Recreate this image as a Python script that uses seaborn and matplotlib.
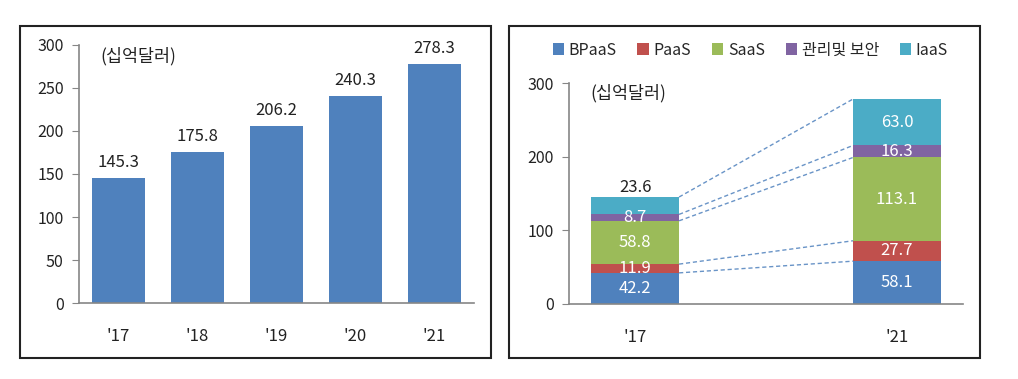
import numpy as np
import pandas as pd
import seaborn as sns
import matplotlib.pyplot as plt
from matplotlib.patches import Rectangle

# data
years = ["'17", "'18", "'19", "'20", "'21"]
totals = [145.3, 175.8, 206.2, 240.3, 278.3]

seg_years = ["'17", "'21"]
segments = ['BPaaS', 'PaaS', 'SaaS', '관리및 보안', 'IaaS']
bpaas = [42.2, 58.1]
paas = [11.9, 27.7]
saas = [58.8, 113.1]
mgmt = [8.7, 16.3]
iaas = [23.6, 63.0]
seg_colors = ['#4F81BD', '#C0504D', '#9BBB59', '#8064A2', '#4BACC6']

sns.set_style('white')
plt.rcParams['font.family'] = ['Noto Sans CJK KR', 'DejaVu Sans']
plt.rcParams['font.size'] = 11

fig = plt.figure(figsize=(10.18, 3.79), dpi=100)

# outer frames of the two panels
for x0 in (0.0196, 0.5):
    fig.patches.append(Rectangle((x0, 0.0554), 0.4627, 0.876, transform=fig.transFigure,
                                 fill=False, edgecolor='#222222', linewidth=1.5))

axis_color = '#868686'
txt = '#222222'

# ---- left panel: total market ----
ax1 = fig.add_axes([0.0776, 0.2005, 0.388, 0.6808])
df_tot = pd.DataFrame({'year': years, 'value': totals})
sns.barplot(data=df_tot, x='year', y='value', order=years, color='#4F81BD',
            saturation=1, width=0.67, errorbar=None, ax=ax1, linewidth=0)
ax1.bar_label(ax1.containers[0], fmt='%.1f', padding=5, fontsize=12, color=txt)
ax1.set_xlim(-0.5, 4.5)
ax1.set_ylim(0, 300)
ax1.set_yticks(range(0, 301, 50))
ax1.text(0.055, 0.955, '(십억달러)', transform=ax1.transAxes, ha='left', va='center',
         fontsize=12.5, color=txt)

# ---- right panel: by segment ----
ax2 = fig.add_axes([0.559, 0.198, 0.387, 0.583])
w = 0.336
cols = [bpaas, paas, saas, mgmt, iaas]
bottom = np.zeros(len(seg_years))
tops = []
for name, vals, c in zip(segments, cols, seg_colors):
    df_seg = pd.DataFrame({'year': seg_years, 'value': vals})
    sns.barplot(data=df_seg, x='year', y='value', order=seg_years, color=c,
                saturation=1, width=w, errorbar=None, bottom=bottom, ax=ax2,
                label=name, linewidth=0)
    bottom = bottom + np.array(vals)
    tops.append(bottom.copy())

for i, cont in enumerate(ax2.containers):
    labels = ['%.1f' % v for v in cols[i]]
    if segments[i] == 'IaaS':
        # '17 IaaS label sits above the bar in black
        ax2.bar_label(cont, labels=['', labels[1]], label_type='center',
                      color='white', fontsize=12)
        ax2.bar_label(cont, labels=[labels[0], ''], padding=1,
                      color=txt, fontsize=12)
    else:
        ax2.bar_label(cont, labels=labels, label_type='center',
                      color='white', fontsize=12)

# dashed connectors between segment tops
for t in tops:
    ax2.plot([0 + w / 2, 1 - w / 2], [t[0], t[1]], color='#4F81BD',
             linestyle=(0, (3, 2)), linewidth=1, alpha=0.85)

ax2.set_xlim(-0.252, 1.252)
ax2.set_ylim(0, 300)
ax2.set_yticks([0, 100, 200, 300])
ax2.text(0.055, 0.955, '(십억달러)', transform=ax2.transAxes, ha='left', va='center',
         fontsize=12.5, color=txt)

handles, lbls = ax2.get_legend_handles_labels()
fig.legend(handles, lbls, loc='center', bbox_to_anchor=(0.737, 0.868), ncol=5,
           frameon=False, handlelength=0.7, handleheight=0.7, handletextpad=0.3,
           columnspacing=1.3, fontsize=11.5)

for ax in (ax1, ax2):
    for s in ('top', 'right'):
        ax.spines[s].set_visible(False)
    for s in ('left', 'bottom'):
        ax.spines[s].set_color(axis_color)
        ax.spines[s].set_linewidth(1.2)
    ax.set_xlabel('')
    ax.set_ylabel('')
    ax.tick_params(axis='y', direction='out', length=5, color=axis_color,
                   labelsize=11.5, labelcolor=txt, pad=6, left=True)
    ax.tick_params(axis='x', length=0, pad=18, labelsize=12, labelcolor=txt)
    if ax.get_legend() is not None:
        ax.get_legend().remove()

fig.savefig('out.png', dpi=100)
